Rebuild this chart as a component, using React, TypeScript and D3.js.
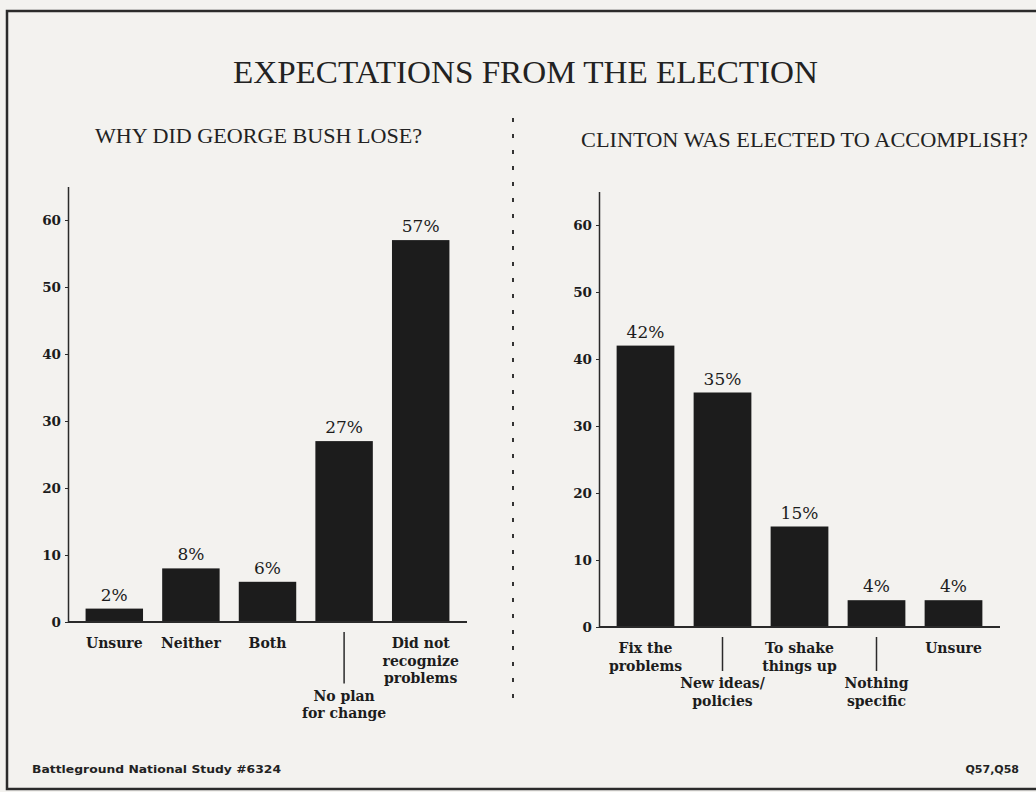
import { useEffect, useRef } from 'react';
import * as d3 from 'd3';

// left panel: why did George Bush lose?
const leftLabels = [['Unsure'], ['Neither'], ['Both'], ['No plan', 'for change'], ['Did not', 'recognize', 'problems']];
const leftRows = [0, 0, 0, 3, 0];
const leftValues = [2, 8, 6, 27, 57];

// right panel: Clinton was elected to accomplish?
const rightLabels = [['Fix the', 'problems'], ['New ideas/', 'policies'], ['To shake', 'things up'], ['Nothing', 'specific'], ['Unsure']];
const rightRows = [0, 2, 0, 2, 0];
const rightValues = [42, 35, 15, 4, 4];

const yTicks = [0, 10, 20, 30, 40, 50, 60];

const W = 1036;
const H = 792;
const INK = '#1c1c1c';

type Panel = {
  labels: string[][];
  rows: number[];
  values: number[];
  x0: number;
  x1: number;
  y0: number;
  y60: number;
};

function drawPanel(svg: d3.Selection<SVGSVGElement, unknown, null, undefined>, p: Panel) {
  const keys = p.labels.map((l) => l.join(' '));
  const x = d3.scaleBand<string>().domain(keys).range([p.x0 + 8, p.x1 - 8]).paddingInner(0.25).paddingOuter(0.125);
  const unit = (p.y0 - p.y60) / 60;
  const y = d3.scaleLinear().domain([0, 65]).range([p.y0, p.y0 - 65 * unit]);

  const g = svg.append('g');

  // y axis
  const ax = g
    .append('g')
    .attr('transform', `translate(${p.x0},0)`)
    .call(d3.axisLeft(y).tickValues(yTicks).tickSize(3).tickSizeOuter(0).tickPadding(4).tickFormat(d3.format('d')));
  ax.select('.domain').attr('stroke', '#2a2a2a').attr('stroke-width', 1.5);
  ax.selectAll('.tick line').attr('stroke', '#2a2a2a');
  ax.selectAll('.tick text')
    .attr('fill', INK)
    .attr('font-family', '"DejaVu Serif", serif')
    .attr('font-weight', 700)
    .attr('font-size', 13.5);

  // bars
  g.selectAll('rect.bar')
    .data(p.values)
    .join('rect')
    .attr('class', 'bar')
    .attr('x', (_, i) => x(keys[i])!)
    .attr('width', x.bandwidth())
    .attr('y', (d) => y(d))
    .attr('height', (d) => y(0) - y(d))
    .attr('fill', INK);

  // value labels
  g.selectAll('text.val')
    .data(p.values)
    .join('text')
    .attr('class', 'val')
    .attr('x', (_, i) => x(keys[i])! + x.bandwidth() / 2)
    .attr('y', (d) => y(d) - 8)
    .attr('text-anchor', 'middle')
    .attr('font-family', '"DejaVu Serif", serif')
    .attr('font-size', 17)
    .attr('fill', INK)
    .text((d) => `${d}%`);

  // x axis line
  g.append('line')
    .attr('x1', p.x0)
    .attr('x2', p.x1)
    .attr('y1', y(0))
    .attr('y2', y(0))
    .attr('stroke', '#2a2a2a')
    .attr('stroke-width', 2);

  // category labels
  const lh = 17.5;
  p.labels.forEach((lines, i) => {
    const cx = x(keys[i])! + x.bandwidth() / 2;
    const base = y(0) + 26 + p.rows[i] * lh;
    const t = g
      .append('text')
      .attr('text-anchor', 'middle')
      .attr('font-family', '"DejaVu Serif", serif')
      .attr('font-weight', 700)
      .attr('font-size', 14)
      .attr('fill', INK);
    lines.forEach((s, j) => {
      t.append('tspan').attr('x', cx).attr('y', base + j * lh).text(s);
    });
    if (p.rows[i] > 0) {
      g.append('line')
        .attr('x1', cx)
        .attr('x2', cx)
        .attr('y1', y(0) + 10)
        .attr('y2', base - 17)
        .attr('stroke', '#2a2a2a')
        .attr('stroke-width', 1.5);
    }
  });
}

export default function App() {
  const ref = useRef<SVGSVGElement | null>(null);

  useEffect(() => {
    const el = ref.current;
    if (!el) return;
    const svg = d3.select(el);
    svg.selectAll('*').remove();

    svg.append('rect').attr('width', W).attr('height', H).attr('fill', '#f3f2ef');

    // frame
    svg.append('rect')
      .attr('x', 7)
      .attr('y', 11)
      .attr('width', W + 10)
      .attr('height', 778)
      .attr('fill', 'none')
      .attr('stroke', '#2b2b2b')
      .attr('stroke-width', 2.5);

    svg.append('text')
      .attr('x', 233)
      .attr('y', 83)
      .attr('font-family', '"Liberation Serif", serif')
      .attr('font-size', 31)
      .attr('textLength', 585)
      .attr('lengthAdjust', 'spacingAndGlyphs')
      .attr('fill', '#222')
      .text('EXPECTATIONS FROM THE ELECTION');

    svg.append('text')
      .attr('x', 95)
      .attr('y', 143)
      .attr('font-family', '"Liberation Serif", serif')
      .attr('font-size', 21)
      .attr('textLength', 327)
      .attr('lengthAdjust', 'spacingAndGlyphs')
      .attr('fill', '#222')
      .text('WHY DID GEORGE BUSH LOSE?');

    svg.append('text')
      .attr('x', 581)
      .attr('y', 147)
      .attr('font-family', '"Liberation Serif", serif')
      .attr('font-size', 21)
      .attr('textLength', 447)
      .attr('lengthAdjust', 'spacingAndGlyphs')
      .attr('fill', '#222')
      .text('CLINTON WAS ELECTED TO ACCOMPLISH?');

    // dotted divider
    svg.append('line')
      .attr('x1', 513)
      .attr('x2', 513)
      .attr('y1', 118)
      .attr('y2', 705)
      .attr('stroke', '#333')
      .attr('stroke-width', 2)
      .attr('stroke-dasharray', '4 12');

    drawPanel(svg, { labels: leftLabels, rows: leftRows, values: leftValues, x0: 68, x1: 467, y0: 622, y60: 220 });
    drawPanel(svg, { labels: rightLabels, rows: rightRows, values: rightValues, x0: 599, x1: 1000, y0: 627, y60: 225 });

    svg.append('text')
      .attr('x', 32)
      .attr('y', 773)
      .attr('font-family', '"DejaVu Sans", sans-serif')
      .attr('font-weight', 700)
      .attr('font-size', 11)
      .attr('textLength', 249)
      .attr('lengthAdjust', 'spacingAndGlyphs')
      .attr('fill', '#222')
      .text('Battleground National Study #6324');

    svg.append('text')
      .attr('x', 1019)
      .attr('y', 773)
      .attr('text-anchor', 'end')
      .attr('font-family', '"DejaVu Sans", sans-serif')
      .attr('font-weight', 700)
      .attr('font-size', 11)
      .attr('fill', '#222')
      .text('Q57,Q58');
  }, []);

  return (
    <div style={{ position: 'fixed', left: 0, top: 0 }}>
      <svg ref={ref} width={W} height={H} style={{ display: 'block' }} />
    </div>
  );
}
